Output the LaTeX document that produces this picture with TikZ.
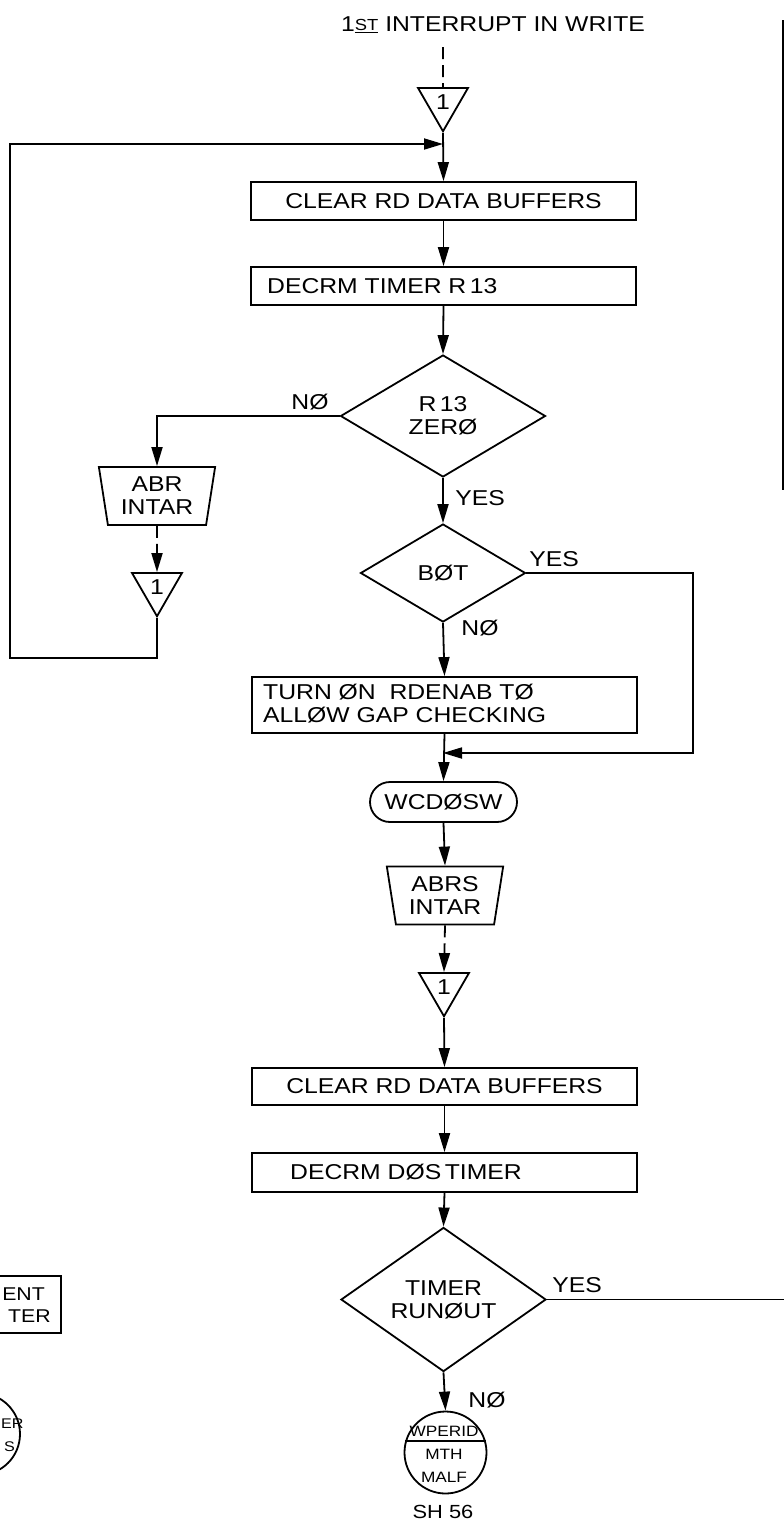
\documentclass[tikz,border=0pt]{standalone}
\usepackage{fontspec}
\newfontfamily\lett{Liberation Sans}[FakeStretch=1.15]
\usetikzlibrary{shapes.geometric,arrows.meta}
\begin{document}
\begin{tikzpicture}[x=1pt,y=-1pt,
  every node/.style={font=\lett\fontsize{21.5}{23}\selectfont, inner sep=0pt},
  pbox/.style={draw, line width=1.8pt, minimum width=385pt, minimum height=38pt},
  dec/.style={draw, line width=1.8pt, diamond, align=center},
  trap/.style={draw, line width=1.8pt, trapezium, trapezium left angle=80, trapezium right angle=80, shape border rotate=180, trapezium stretches=true, minimum width=117pt, minimum height=58pt, align=center},
  tri/.style={draw, line width=1.8pt, regular polygon, regular polygon sides=3, shape border rotate=180, minimum size=57.7pt},
  term/.style={draw, line width=1.8pt, rounded corners=20pt, minimum width=147pt, minimum height=40pt},
  conn/.style={draw, line width=1.8pt, circle, minimum size=82pt},
  solidline/.style={line width=1.8pt},
  flow/.style={line width=1.8pt, -{Triangle[length=19pt,width=11pt]}},
  dflow/.style={flow, dash pattern=on 12pt off 6pt},
  smalltxt/.style={font=\lett\fontsize{15}{18}\selectfont},
]
\useasboundingbox (0,0) rectangle (784,1532);

% title and entry
\node (title) at (493,25) {1\raisebox{1pt}{\fontsize{16}{16}\selectfont\underline{ST}} INTERRUPT IN WRITE};
\coordinate (ds) at (443,47);
\node[tri] (t1) at (443,102.4) {1};

% upper loop
\coordinate (j1) at (443,144);
\node[pbox] (clr1) at (443.5,201) {CLEAR RD DATA BUFFERS};
\node[pbox] (dec1) at (443.5,286) {};
\node[anchor=west] (dec1t) at (267,286) {DECRM TIMER R\,13};
\node[dec, minimum width=205pt, minimum height=122pt] (z13) at (443,416) {R\,13\\ZERØ};
\node[trap] (abr) at (157,496) {ABR\\INTAR};
\node[tri] (t2) at (157,587.4) {1};
\coordinate (lc) at (10,658);

\node[dec, minimum width=165pt, minimum height=98pt] (bot) at (443,573) {BØT};
\node[pbox, minimum height=56pt] (turn) at (444.5,705) {};
\node[anchor=west, align=left] (turnt) at (263,704) {TURN ØN\ \ RDENAB TØ\\ALLØW GAP CHECKING};
\coordinate (rc) at (693,753);
\coordinate (j2) at (443,753);
\node[term] (wcd) at (443.5,802) {WCDØSW};
\node[trap] (abrs) at (445,895.5) {ABRS\\INTAR};
\node[tri] (t3) at (444,987.4) {1};

% lower part
\node[pbox, minimum height=37pt] (clr2) at (444.5,1086.5) {CLEAR RD DATA BUFFERS};
\node[pbox, minimum height=39pt] (dec2) at (444.5,1172.5) {};
\node[anchor=west] (dec2t) at (290,1172.5) {DECRM DØS\,TIMER};
\node[dec, minimum width=205pt, minimum height=123pt] (tmr) at (443.5,1299.5) {TIMER\\RUNØUT};
\coordinate (re) at (784,1299.5);
\node[conn] (wp) at (445.5,1452.5) {};
\draw[solidline] (wp.164) -- (wp.16);
\node[smalltxt] (wp1) at (444,1431) {WPERID};
\node[smalltxt] (wp2) at (444,1454) {MTH};
\node[smalltxt] (wp3) at (444,1477) {MALF};
\node[font=\lett\fontsize{19}{20}\selectfont] (sh) at (443,1512) {SH 56};

% branch labels
\node (l1) at (310,402) {NØ};
\node (l2) at (480,498) {YES};
\node (l3) at (554,559) {YES};
\node (l4) at (480,628) {NØ};
\node (l5) at (577,1285) {YES};
\node (l6) at (487,1400) {NØ};

% connectors
\draw[solidline, dash pattern=on 12pt off 6pt] (ds) -- (t1.north);
\draw[flow] (t1.south) -- (clr1.north);
\draw[flow] (t2.south) |- (lc) |- (j1);
\draw[flow] (clr1.south) -- (dec1.north);
\draw[flow] (dec1.south) -- (z13.north);
\draw[flow] (z13.west) -| (abr.north);
\draw[dflow] (abr.south) -- (t2.north);
\draw[flow] (z13.south) -- (bot.north);
\draw[flow] (bot.south) -- (turn.north);
\draw[flow] (bot.east) -| (rc) -- (j2);
\draw[flow] (turn.south) -- (wcd.north);
\draw[flow] (wcd.south) -- (abrs.north);
\draw[dflow] (abrs.south) -- (t3.north);
\draw[flow] (t3.south) -- (clr2.north);
\draw[flow] (clr2.south) -- (dec2.north);
\draw[flow] (dec2.south) -- (tmr.north);
\draw[solidline] (tmr.east) -- (re);
\draw[flow] (tmr.south) -- (wp.north);

% right page edge
\coordinate (e1) at (783,20);
\coordinate (e2) at (783,490);
\draw[line width=1.2pt] (e1) -- (e2);

% partly visible elements at the left edge
\begin{scope}
\clip (0,0) rectangle (784,1532);
\node[draw, line width=1.8pt, minimum width=200pt, minimum height=57pt, anchor=east] (pbx) at (62,1304.5) {};
\node[anchor=east, font=\lett\fontsize{18.5}{20}\selectfont] (pt1) at (45,1294) {ENT};
\node[anchor=east, font=\lett\fontsize{18.5}{20}\selectfont] (pt2) at (51,1316) {TER};
\node[conn] (pc) at (-21,1434) {};
\node[anchor=west, font=\lett\fontsize{14}{16}\selectfont] (pc1) at (1,1424) {ER};
\node[anchor=east, font=\lett\fontsize{14}{16}\selectfont] (pc2) at (15,1447) {S};
\end{scope}
\end{tikzpicture}
\end{document}
